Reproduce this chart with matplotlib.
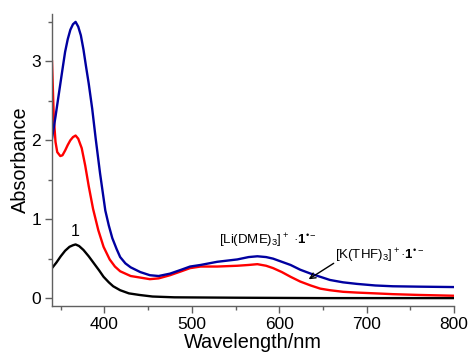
import matplotlib
matplotlib.use("Agg")
import matplotlib.pyplot as plt
from matplotlib.ticker import MultipleLocator

plt.rcParams['font.family'] = ['Liberation Sans', 'DejaVu Sans']
plt.rcParams['mathtext.fontset'] = 'custom'
plt.rcParams['mathtext.rm'] = 'Liberation Sans'
plt.rcParams['mathtext.it'] = 'Liberation Sans:italic'
plt.rcParams['mathtext.bf'] = 'Liberation Sans:bold'

# [Li(DME)3]+ . 1 radical anion (blue)
wl_li = [340, 344, 348, 352, 355, 358, 361, 364, 367, 370, 373, 376, 379, 382,
         386, 390, 395, 401, 405, 409, 414, 418, 424, 430, 441, 452, 462, 475,
         488, 498, 510, 529, 552, 565, 575, 585, 593, 603, 613, 624, 636, 647,
         658, 673, 689, 710, 730, 760, 800]
abs_li = [2.02, 2.30, 2.60, 2.90, 3.12, 3.28, 3.40, 3.47, 3.50, 3.44, 3.33, 3.15,
          2.93, 2.72, 2.40, 2.02, 1.58, 1.11, 0.92, 0.76, 0.62, 0.52, 0.44, 0.39,
          0.33, 0.29, 0.28, 0.31, 0.36, 0.40, 0.42, 0.46, 0.49, 0.52, 0.53, 0.52,
          0.50, 0.46, 0.42, 0.36, 0.31, 0.27, 0.23, 0.20, 0.18, 0.16, 0.15, 0.145,
          0.14]

# [K(THF)3]+ . 1 radical anion (red)
wl_k = [340, 342, 344, 346, 349.5, 352, 355, 358, 361, 364, 367, 370, 374, 378,
        382, 387, 393, 399, 406, 412, 418, 430, 441, 452, 462, 475, 488, 498,
        510, 529, 552, 565, 575, 585, 593, 603, 613, 624, 636, 647, 658, 673,
        689, 710, 730, 760, 800]
abs_k = [3.00, 2.30, 1.98, 1.85, 1.80, 1.81, 1.87, 1.94, 2.00, 2.04, 2.06, 2.02,
         1.90, 1.68, 1.42, 1.13, 0.86, 0.65, 0.49, 0.40, 0.34, 0.28, 0.26, 0.24,
         0.25, 0.29, 0.34, 0.38, 0.40, 0.40, 0.41, 0.42, 0.43, 0.41, 0.38, 0.33,
         0.27, 0.21, 0.16, 0.12, 0.10, 0.08, 0.07, 0.06, 0.05, 0.04, 0.03]

# neutral 1 (black)
wl_1 = [340, 345, 350, 355, 360, 364, 367, 371, 376, 382, 388, 394, 399, 405,
        410, 418, 428, 440, 455, 480, 550, 650, 800]
abs_1 = [0.38, 0.45, 0.53, 0.60, 0.65, 0.67, 0.68, 0.66, 0.61, 0.53, 0.44, 0.35,
         0.27, 0.20, 0.15, 0.10, 0.06, 0.04, 0.02, 0.01, 0.005, 0.0, 0.0]

fig = plt.figure(figsize=(4.69, 3.57), dpi=100)
ax = fig.add_axes([52/469, 51/357, 402/469, 292/357])

ax.plot(wl_1, abs_1, color='black', lw=1.7)
ax.plot(wl_k, abs_k, color='#ff0000', lw=1.7)
ax.plot(wl_li, abs_li, color='#0000a0', lw=1.7)

ax.set_xlim(340, 800)
ax.set_ylim(-0.1, 3.6)
ax.xaxis.set_major_locator(MultipleLocator(100))
ax.xaxis.set_minor_locator(MultipleLocator(50))
ax.yaxis.set_major_locator(MultipleLocator(1))
ax.yaxis.set_minor_locator(MultipleLocator(0.5))

for s in ['top', 'right']:
    ax.spines[s].set_visible(False)
for s in ['left', 'bottom']:
    ax.spines[s].set_color('#606060')
    ax.spines[s].set_linewidth(1.0)
ax.tick_params(which='major', direction='out', length=5, width=1, color='#606060',
               labelsize=12.5, pad=3)
ax.tick_params(which='minor', direction='out', length=3, width=1, color='#606060')

ax.set_xlabel('Wavelength/nm', fontsize=14.3, labelpad=1)
ax.set_ylabel('Absorbance', fontsize=14.3, labelpad=1)

ax.text(366.7, 0.85, '1', fontsize=11.5, ha='center', va='center')
ax.text(587, 0.72, r'[Li(DME)$_3$]$^+$ ·$\mathbf{1}^{\mathrm{•−}}$', fontsize=9.5,
        ha='center', va='center')
ax.text(664, 0.54, r'[K(THF)$_3$]$^+$·$\mathbf{1}^{\mathrm{•−}}$', fontsize=9.5,
        ha='left', va='center')
ax.annotate('', xy=(631, 0.22), xytext=(665, 0.46),
            arrowprops=dict(arrowstyle='->', color='black', lw=1.0))

fig.savefig('out.png', dpi=100)
